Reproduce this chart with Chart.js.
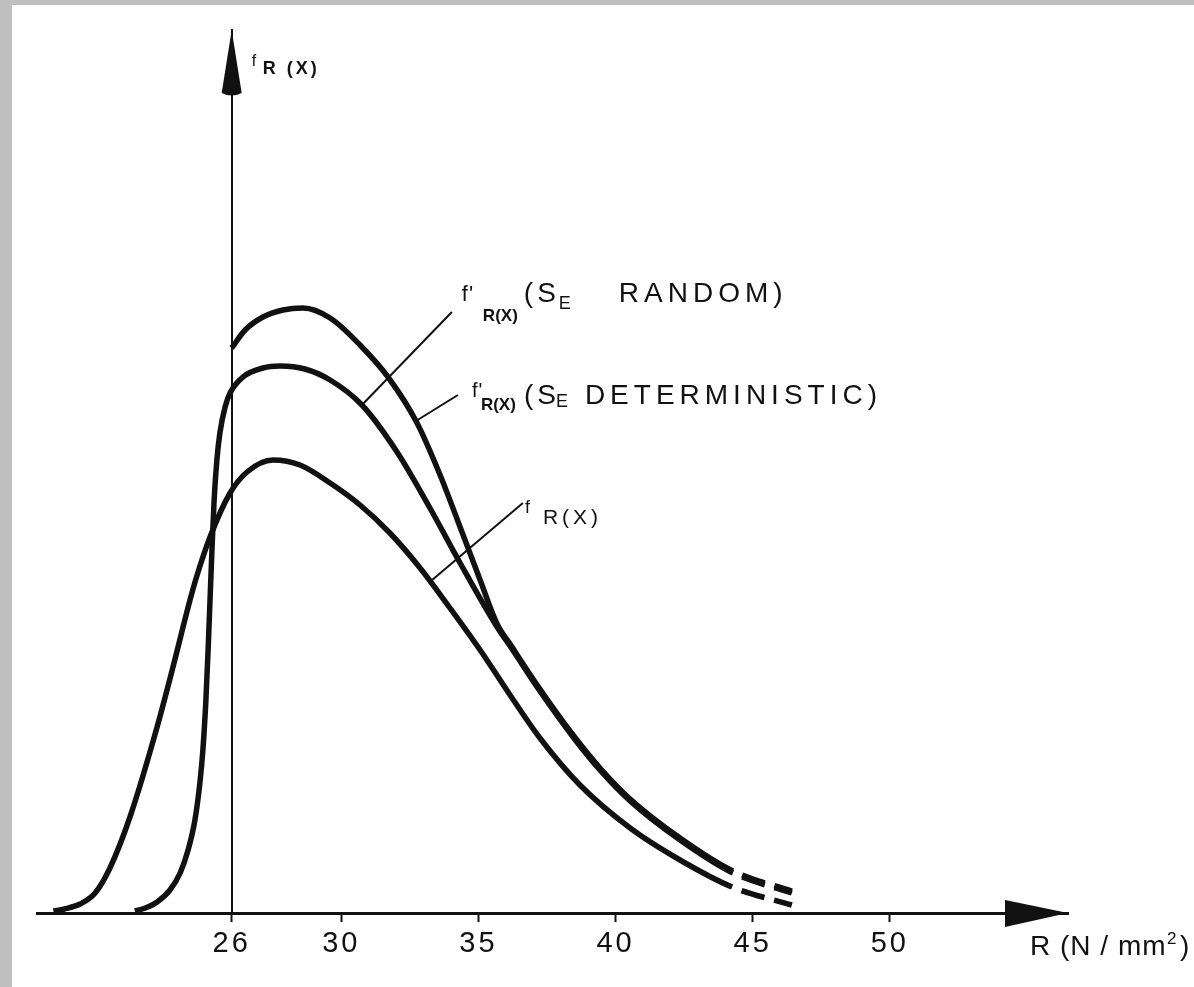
<!DOCTYPE html>
<html>
<head>
<meta charset="utf-8">
<title>fR(x)</title>
<script src="https://cdn.jsdelivr.net/npm/chart.js@4.4.0/dist/chart.umd.min.js"></script>
<style>
  html, body { margin: 0; padding: 0; background: #bfbfbf; overflow: hidden; }
  #paper { position: absolute; left: 12px; top: 5px; width: 1182px; height: 982px; background: #fff; }
  #chart { position: absolute; left: 0; top: 0; }
</style>
</head>
<body>
<div id="paper"></div>
<canvas id="chart" width="1194" height="987"></canvas>
<script>
// valeurs (R en N/mm2, densite en unites arbitraires)
const xTickValues = [26, 30, 35, 40, 45, 50];

// f R(X)
const fX = [19.5, 19.9, 20.47, 21.02, 21.56, 22.29, 23.28, 23.86, 24.48, 24.74, 25.21, 25.94, 26.56, 27.51, 28.49, 29.59, 30.68, 31.77, 32.87, 33.96, 35.06, 36.15, 37.24, 38.70, 40.53, 42.35, 44.25, 46.43];
const fY = [0.02, 0.04, 0.09, 0.20, 0.45, 0.96, 1.86, 2.46, 3.13, 3.38, 3.76, 4.20, 4.41, 4.53, 4.48, 4.30, 4.08, 3.80, 3.45, 3.05, 2.63, 2.18, 1.75, 1.28, 0.85, 0.53, 0.26, 0.08];

// f' R(X) (SE random)
const randomX = [22.47, 22.85, 23.28, 23.75, 24.12, 24.41, 24.66, 24.84, 24.95, 25.06, 25.14, 25.21, 25.28, 25.36, 25.46, 25.57, 25.76, 25.94, 26.41, 27.14, 27.76, 28.67, 29.59, 30.75, 32.03, 33.23, 34.33, 35.68, 36.20, 37.24, 38.45, 39.43, 40.53, 42.35, 44.28, 46.43];
const randomY = [0.02, 0.05, 0.11, 0.23, 0.40, 0.63, 0.93, 1.30, 1.63, 2.13, 2.63, 3.13, 3.63, 4.13, 4.53, 4.80, 5.06, 5.20, 5.36, 5.45, 5.47, 5.44, 5.33, 5.08, 4.61, 4.05, 3.50, 2.86, 2.65, 2.22, 1.76, 1.43, 1.12, 0.73, 0.40, 0.20];

// f' R(X) (SE deterministic), tronquee a 26
const detX = [26.0, 26.49, 27.14, 27.87, 28.60, 29.59, 30.68, 31.70, 32.76, 33.60, 34.44, 35.06, 35.68, 36.20, 37.24, 38.45, 39.43, 40.53, 42.35, 44.28, 46.43];
const detY = [5.65, 5.83, 5.96, 6.03, 6.05, 5.95, 5.68, 5.36, 4.90, 4.38, 3.78, 3.33, 2.89, 2.67, 2.24, 1.78, 1.45, 1.14, 0.75, 0.42, 0.22];

// au-dela de cette valeur les courbes sont en pointilles
const dashFrom = 44.2;

const INK = '#111';
const FONT = '"Liberation Sans", Arial, sans-serif';

function toPoints(xs, ys) {
  return xs.map((x, i) => ({ x: x, y: ys[i] }));
}

function curve(xs, ys) {
  return {
    data: toPoints(xs, ys),
    borderColor: INK,
    borderWidth: 5.5,
    pointRadius: 0,
    fill: false,
    cubicInterpolationMode: 'monotone',
    segment: {
      borderDash: ctx => ctx.p0.parsed.x >= dashFrom ? [24, 10] : undefined,
      borderDashOffset: ctx => ctx.p0.parsed.x >= dashFrom ? 24 : 0
    }
  };
}

function txt(ctx, s, x, y, size, ls, bold) {
  ctx.font = (bold ? 'bold ' : '') + size + 'px ' + FONT;
  ctx.letterSpacing = (ls || 0) + 'px';
  ctx.textAlign = 'left';
  ctx.textBaseline = 'alphabetic';
  ctx.fillText(s, x, y);
}

// fleches des axes, traits de rappel et textes
const decorations = {
  id: 'decorations',
  beforeDraw(chart) {
    chart.ctx.letterSpacing = '3px';
  },
  beforeDatasetsDraw(chart) {
    chart.ctx.letterSpacing = '0px';
  },
  afterDraw(chart) {
    const ctx = chart.ctx;
    const xs = chart.scales.x, ys = chart.scales.y;
    const px = v => xs.getPixelForValue(v);
    const py = v => ys.getPixelForValue(v);
    const ax = px(26), top = ys.top, bottom = ys.bottom, right = xs.right;

    ctx.save();
    ctx.fillStyle = INK;
    ctx.strokeStyle = INK;

    // fleche verticale
    ctx.beginPath();
    ctx.moveTo(ax, top);
    ctx.lineTo(ax + 10, top + 63);
    ctx.quadraticCurveTo(ax, top + 68, ax - 10, top + 63);
    ctx.closePath();
    ctx.fill();

    // fleche horizontale
    ctx.beginPath();
    ctx.moveTo(right, bottom);
    ctx.lineTo(right - 63, bottom - 13);
    ctx.lineTo(right - 63, bottom + 14);
    ctx.closePath();
    ctx.fill();

    // traits de rappel
    ctx.lineWidth = 2;
    const leaders = [
      [30.75, 5.08, 34.03, 6.01],
      [32.72, 4.92, 34.25, 5.18],
      [33.31, 3.33, 36.62, 4.10]
    ];
    leaders.forEach(l => {
      ctx.beginPath();
      ctx.moveTo(px(l[0]), py(l[1]));
      ctx.lineTo(px(l[2]), py(l[3]));
      ctx.stroke();
    });

    // label axe vertical
    txt(ctx, 'f', ax + 20, top + 36, 16, 0, false);
    txt(ctx, 'R (X)', ax + 31, top + 44, 18, 3, true);

    // f'R(X)(SE RANDOM)
    let a = [px(34.03), py(6.01)];
    txt(ctx, "f'", a[0] + 10, a[1] - 11, 22, 1, false);
    txt(ctx, 'R(X)', a[0] + 31, a[1] + 9, 17, 0, true);
    txt(ctx, '(S', a[0] + 72, a[1] - 10, 28, 4, false);
    txt(ctx, 'E', a[0] + 107, a[1] - 3, 18, 0, false);
    txt(ctx, 'RANDOM)', a[0] + 167, a[1] - 10, 28, 5, false);

    // f'R(X)(SE DETERMINISTIC)
    a = [px(34.25), py(5.18)];
    txt(ctx, "f'", a[0] + 14, a[1] + 2, 20, 1, false);
    txt(ctx, 'R(X)', a[0] + 23, a[1] + 15, 17, 0, true);
    txt(ctx, '(S', a[0] + 66, a[1] + 9, 28, 4, false);
    txt(ctx, 'E', a[0] + 98, a[1] + 12, 18, 0, false);
    txt(ctx, 'DETERMINISTIC)', a[0] + 127, a[1] + 9, 28, 5, false);

    // fR(X)
    a = [px(36.62), py(4.10)];
    txt(ctx, 'f', a[0] + 2, a[1] + 10, 18, 0, false);
    txt(ctx, 'R(X)', a[0] + 20, a[1] + 21, 21, 4, false);

    // titre axe horizontal
    txt(ctx, 'R (N / mm', right - 38, bottom + 42, 28, 1, false);
    txt(ctx, '2', right + 99, bottom + 31, 17, 0, false);
    txt(ctx, ')', right + 112, bottom + 42, 28, 0, false);

    ctx.restore();
  }
};

new Chart(document.getElementById('chart').getContext('2d'), {
  type: 'line',
  data: {
    datasets: [
      curve(fX, fY),
      curve(randomX, randomY),
      curve(detX, detY)
    ]
  },
  options: {
    responsive: false,
    animation: false,
    layout: { padding: { left: 37, right: 126, top: 30, bottom: 0 } },
    plugins: {
      legend: { display: false },
      tooltip: { enabled: false }
    },
    scales: {
      x: {
        type: 'linear',
        min: 18.9,
        max: 56.5,
        afterBuildTicks: s => { s.ticks = xTickValues.map(v => ({ value: v })); },
        afterFit: s => { s.height = 74; },
        grid: { drawOnChartArea: false, drawTicks: true, tickLength: 9, tickWidth: 2, color: INK },
        border: { display: true, color: INK, width: 3 },
        ticks: {
          color: INK,
          autoSkip: false,
          maxRotation: 0,
          padding: 5,
          font: { family: FONT, size: 29 },
          callback: v => String(v)
        }
      },
      y: {
        type: 'linear',
        min: 0,
        max: 8.83,
        position: { x: 26 },
        afterFit: s => { s.width = 0; },
        grid: { display: false },
        ticks: { display: false },
        border: { display: true, color: INK, width: 2 }
      }
    }
  },
  plugins: [decorations]
});
</script>
</body>
</html>
